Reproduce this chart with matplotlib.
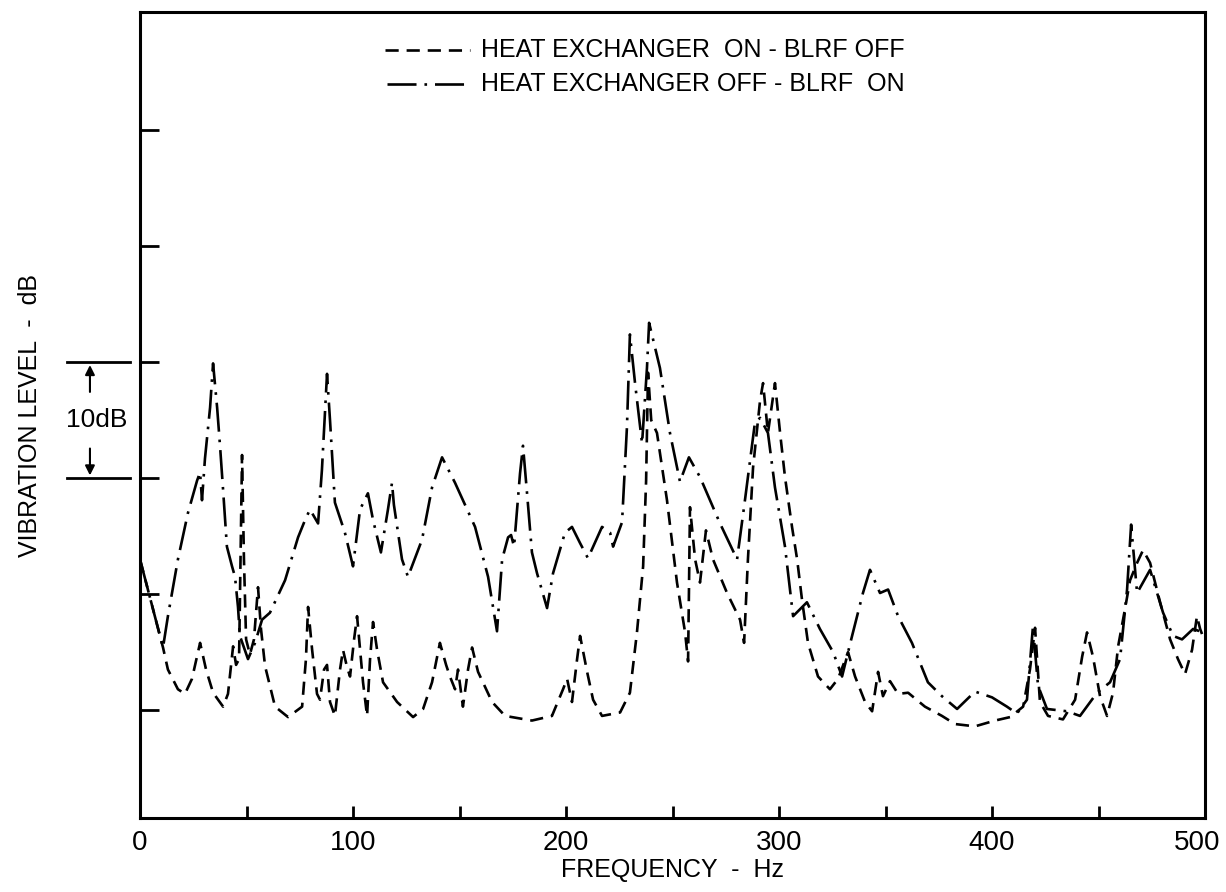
import matplotlib
matplotlib.use("Agg")
import matplotlib.pyplot as plt
from matplotlib.transforms import ScaledTranslation

# dashed curve: heat exchanger on, BLRF off
he_on_freq = [0, 10.8, 13.1, 17.8, 21.1, 24.4, 28.2, 31.0, 34.3, 39.0, 41.3, 43.7, 45.1, 46.5,
              47.9, 48.8, 49.8, 51.6, 53.5, 55.4, 56.8, 58.7, 63.4, 69.5, 76.1, 77.9, 78.9,
              80.8, 83.1, 84.5, 86.4, 87.8, 89.2, 91.5, 93.9, 95.3, 97.2, 98.6, 100.5, 101.9,
              103.3, 104.7, 106.6, 108.0, 109.4, 111.3, 114.1, 120.7, 128.2, 132.9, 137.1,
              140.8, 143.7, 145.5, 147.9, 149.3, 151.6, 154.0, 155.9, 158.7, 165.3, 171.4,
              184.0, 193.4, 198.6, 200.5, 202.8, 205.2, 206.6, 209.9, 212.7, 216.9, 225.4,
              230.0, 233.3, 236.2, 237.6, 238.5, 240.0, 242.7, 247.4, 252.1, 255.9, 257.3,
              258.2, 260.6, 262.9, 265.7, 269.0, 275.6, 281.7, 283.6, 285.4, 287.8, 291.1,
              292.5, 294.8, 298.1, 300.5, 302.8, 306.1, 308.5, 310.8, 313.6, 318.3, 323.9,
              327.7, 332.4, 335.7, 340.4, 343.7, 346.5, 348.8, 352.1, 355.9, 360.6, 368.5,
              376.5, 382.6, 392.0, 401.4, 408.5, 414.6, 417.8, 420.2, 422.5, 426.3, 433.3,
              439.0, 442.3, 444.6, 447.4, 450.7, 454.0, 456.8, 459.2, 462.4, 464.8, 468.1,
              470.9, 474.2, 478.9, 483.6, 487.3, 490.6, 493.9, 496.2, 497.7, 499.5]
he_on_db = [13.0, 5.4, 3.5, 1.8, 1.4, 2.7, 5.8, 3.5, 1.5, 0.3, 1.4, 5.5, 3.9, 4.4,
            22.0, 13.0, 6.1, 4.8, 6.1, 10.6, 7.0, 3.8, 0.3, -0.6, 0.3, 4.4, 8.9,
            5.2, 1.4, 0.9, 3.5, 3.9, 0.7, -0.5, 3.5, 5.2, 3.7, 2.9, 6.1, 8.1,
            5.2, 2.4, -0.5, 4.4, 7.6, 5.2, 2.4, 0.7, -0.6, 0.1, 2.4,
            5.8, 3.9, 2.9, 1.8, 3.5, 0.3, 3.5, 5.4, 3.3, 0.7, -0.5,
            -0.9, -0.5, 1.8, 2.7, 0.7, 4.4, 6.4, 3.3, 0.9, -0.5, -0.2,
            1.5, 6.7, 12.4, 19.8, 29.1, 25.0, 23.9, 18.1, 11.0, 6.7, 4.2,
            17.5, 13.0, 11.0, 15.5, 13.0, 10.1, 7.8, 5.8, 13.0, 20.9, 26.7,
            28.2, 23.9, 28.2, 23.9, 20.1, 15.8, 13.0, 9.5, 5.8, 2.9, 1.8,
            2.7, 5.0, 2.9, 0.7, -0.1, 3.3, 1.2, 2.5, 1.4, 1.5, 0.3,
            -0.5, -1.2, -1.4, -0.9, -0.6, 0.3, 3.5, 7.1, 0.7, -0.5, -0.8,
            0.9, 4.6, 6.7, 4.6, 1.2, -0.5, 1.5, 5.5, 8.7, 11.2, 12.7,
            13.8, 12.7, 9.3, 6.1, 4.4, 3.1, 5.2, 8.1, 7.0, 6.1]

# dash-dot curve: heat exchanger off, BLRF on
blrf_on_freq = [0, 10.8, 13.1, 17.8, 22.5, 26.8, 28.2, 29.1, 30.5, 32.9, 34.3, 36.2, 37.6,
                39.0, 40.8, 43.2, 44.6, 46.0, 46.9, 50.7, 54.0, 57.3, 61.0, 68.1, 74.2, 77.5,
                79.8, 83.6, 85.4, 87.8, 89.2, 91.5, 96.2, 100.0, 103.3, 107.0, 109.4, 113.1,
                116.4, 118.3, 119.2, 123.0, 125.8, 132.4, 137.1, 141.8, 147.9, 157.3, 163.4,
                167.6, 170.0, 172.8, 174.2, 175.6, 178.4, 179.8, 181.7, 184.0, 186.4, 191.1,
                193.9, 199.5, 202.8, 206.6, 210.3, 216.9, 220.7, 222.1, 226.3, 228.6, 230.0,
                232.4, 235.7, 238.0, 239.0, 244.1, 248.8, 253.5, 257.7, 262.9, 272.3, 280.3,
                284.0, 288.7, 291.1, 294.8, 298.1, 302.8, 306.6, 313.1, 319.2, 325.4, 329.6,
                332.4, 334.3, 339.4, 342.7, 347.4, 351.2, 355.9, 362.4, 369.9, 376.5, 383.6,
                392.0, 400.0, 407.0, 411.7, 416.4, 419.2, 421.6, 425.8, 435.2, 441.3, 449.3,
                455.4, 460.1, 463.4, 465.3, 468.1, 474.2, 480.3, 485.0, 489.2, 494.4, 499.1]
blrf_on_db = [13.0, 5.4, 8.1, 13.0, 17.0, 19.8, 20.5, 18.1, 21.7, 26.1, 29.9, 26.1, 22.7,
              19.0, 14.1, 12.4, 11.5, 8.9, 6.4, 4.4, 5.8, 7.8, 8.4, 11.2, 14.9, 16.4,
              17.3, 16.1, 20.7, 29.0, 25.0, 17.9, 15.3, 12.4, 17.3, 18.7, 16.4, 13.6,
              17.3, 19.6, 17.7, 13.0, 11.5, 14.7, 19.2, 21.8, 19.6, 15.8, 11.5,
              6.8, 13.0, 14.9, 15.1, 14.1, 20.4, 22.8, 18.7, 13.6, 11.8, 8.8,
              11.8, 15.3, 15.8, 14.4, 13.1, 15.8, 15.3, 14.1, 16.2, 24.4, 32.4,
              28.2, 23.0, 29.5, 33.4, 29.5, 23.9, 19.7, 21.8, 20.1, 16.1, 13.0,
              18.1, 24.8, 25.2, 23.9, 19.2, 14.1, 8.1, 9.3, 7.0, 5.0, 2.9,
              5.0, 6.4, 10.1, 12.1, 10.1, 10.4, 8.1, 5.8, 2.4, 1.2, 0.1,
              1.6, 1.1, 0.3, -0.3, 0.9, 7.2, 2.1, 0.1, -0.1, -0.5, 1.5,
              2.4, 4.4, 10.4, 16.0, 10.1, 12.1, 8.4, 6.4, 6.1, 7.0, 6.7]

x_ticks = [0, 50, 100, 150, 200, 250, 300, 350, 400, 450, 500]
x_tick_labels = ["0", "", "100", "", "200", "", "300", "", "400", "", "500"]
y_ticks = [0, 10, 20, 30, 40, 50]
legend_labels = ["HEAT EXCHANGER  ON - BLRF OFF", "HEAT EXCHANGER OFF - BLRF  ON"]

plt.rcParams["font.family"] = ["Liberation Sans", "DejaVu Sans"]

fig = plt.figure(figsize=(12.26, 8.92), dpi=100)
ax = fig.add_axes([0.1142, 0.083, 0.8687, 0.9035])

lw = 1.9
dash_on = (5, 3)
dash_dot = (11, 3, 1, 3)
ax.plot(he_on_freq, he_on_db, color="black", lw=lw, dashes=dash_on)
ax.plot(blrf_on_freq, blrf_on_db, color="black", lw=lw, dashes=dash_dot)

ax.set_xlim(0, 500)
ax.set_ylim(-9.3, 60.2)

for s in ax.spines.values():
    s.set_linewidth(2.2)

ax.set_xticks(x_ticks)
ax.set_xticklabels(x_tick_labels, fontsize=20)
ax.set_yticks(y_ticks)
ax.set_yticklabels([])
ax.tick_params(axis="x", direction="in", length=9, width=2, pad=9)
ax.tick_params(axis="y", direction="in", length=14, width=2)

# nudge the "500" label left so it stays inside the figure
last = ax.get_xticklabels()[-1]
last.set_transform(last.get_transform() + ScaledTranslation(-0.08, 0, fig.dpi_scale_trans))

ax.set_xlabel("FREQUENCY  -  Hz", fontsize=18, labelpad=1)
ax.set_ylabel("VIBRATION LEVEL  -  dB", fontsize=18, labelpad=67)

# legend drawn by hand, like the original
ax.plot([115, 155], [56.9, 56.9], color="black", lw=lw, dashes=dash_on, clip_on=False)
ax.plot([116, 155], [54.0, 54.0], color="black", lw=lw, dashes=dash_dot, clip_on=False)
ax.text(160, 56.9, legend_labels[0], fontsize=18, va="center", ha="left")
ax.text(160, 54.0, legend_labels[1], fontsize=18, va="center", ha="left")

# 10 dB scale marker left of the axis
for yv in [20, 30]:
    ax.plot([-34.5, -4.5], [yv, yv], color="black", lw=2, clip_on=False)
ax.annotate("", xy=(-23.5, 30), xytext=(-23.5, 27.2), annotation_clip=False,
            arrowprops=dict(arrowstyle="-|>", color="black", lw=1.5, mutation_scale=14))
ax.annotate("", xy=(-23.5, 20), xytext=(-23.5, 22.8), annotation_clip=False,
            arrowprops=dict(arrowstyle="-|>", color="black", lw=1.5, mutation_scale=14))
ax.text(-20.5, 25, "10dB", fontsize=19, ha="center", va="center")

fig.savefig("out.png", dpi=100)
